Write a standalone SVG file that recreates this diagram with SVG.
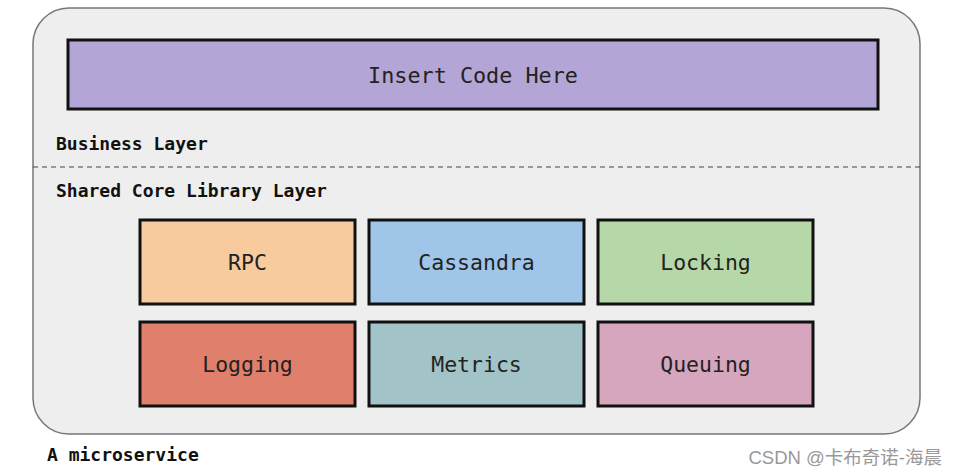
<svg xmlns="http://www.w3.org/2000/svg" width="958" height="475" viewBox="0 0 958 475">
<style>
.box{stroke:#111;stroke-width:3}
.lbl{font-family:"DejaVu Sans Mono","Liberation Mono",monospace;font-size:21.5px;fill:#222;text-anchor:middle}
.hdr{font-family:"DejaVu Sans Mono","Liberation Mono",monospace;font-size:18px;font-weight:bold;fill:#111}
</style>
<rect width="958" height="475" fill="#ffffff"/>
<g id="microservice">
<rect x="33" y="8" width="887" height="426" rx="36" ry="36" fill="#eeeeee" stroke="#777" stroke-width="1.5"/>
</g>
<g id="divider">
<line x1="33" y1="167" x2="920" y2="167" stroke="#444" stroke-width="1" stroke-dasharray="5,4"/>
</g>
<g id="insert-code">
<rect class="box" x="68" y="40" width="810" height="69" fill="#b3a5d5"/>
<text class="lbl" x="473" y="83" style="font-size:21.8px">Insert Code Here</text>
</g>
<text class="hdr" x="56" y="150">Business Layer</text>
<text class="hdr" x="56" y="197">Shared Core Library Layer</text>
<g id="rpc">
<rect class="box" x="140" y="220" width="215" height="84" fill="#f8cb9e"/>
<text class="lbl" x="247.5" y="270">RPC</text>
</g>
<g id="cassandra">
<rect class="box" x="369" y="220" width="215" height="84" fill="#9fc5e8"/>
<text class="lbl" x="476.5" y="270">Cassandra</text>
</g>
<g id="locking">
<rect class="box" x="598" y="220" width="215" height="84" fill="#b6d7a8"/>
<text class="lbl" x="705.5" y="270">Locking</text>
</g>
<g id="logging">
<rect class="box" x="140" y="322" width="215" height="84" fill="#e07f6b"/>
<text class="lbl" x="247.5" y="372">Logging</text>
</g>
<g id="metrics">
<rect class="box" x="369" y="322" width="215" height="84" fill="#a2c4c9"/>
<text class="lbl" x="476.5" y="372">Metrics</text>
</g>
<g id="queuing">
<rect class="box" x="598" y="322" width="215" height="84" fill="#d5a6bd"/>
<text class="lbl" x="705.5" y="372">Queuing</text>
</g>
<g id="connectors"></g>
<text class="hdr" x="47" y="461">A microservice</text>
<text x="942" y="464" text-anchor="end" font-family="'Liberation Sans','Noto Sans CJK SC',sans-serif" font-size="18.5" fill="#999">CSDN @卡布奇诺-海晨</text>
</svg>
